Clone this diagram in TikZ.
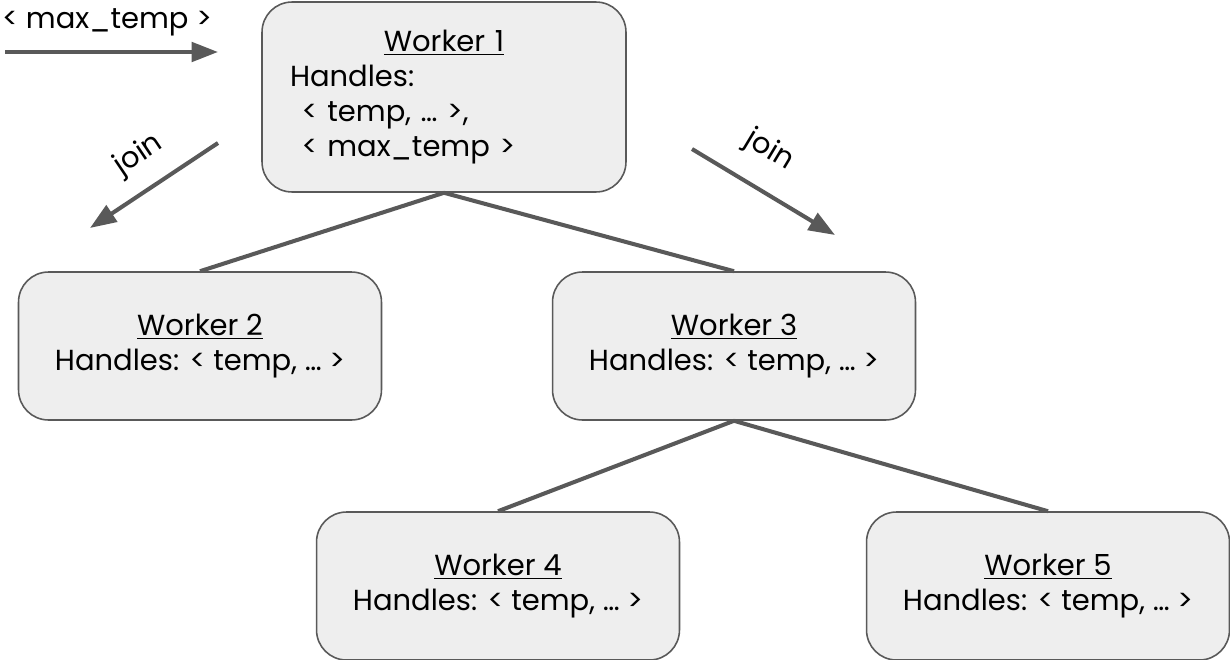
\documentclass[tikz,border=0pt]{standalone}
\usepackage{fontspec}
\setmainfont{Poppins}
\usetikzlibrary{arrows.meta}
\definecolor{boxfill}{HTML}{EEEEEE}
\definecolor{edgegray}{HTML}{595959}

\begin{document}
\begin{tikzpicture}[x=0.02cm,y=-0.02cm,>={Triangle[length=15pt,width=11pt]},
  worker/.style={draw=edgegray,line width=0.9pt,fill=boxfill,rounded corners=0.6cm,
    minimum width=7.26cm,minimum height=2.96cm,align=center},
  edge/.style={draw=edgegray,line width=2.3pt},
  every node/.style={font=\fontsize{16.5}{20}\selectfont}]
  \useasboundingbox (0,0) rectangle (1230,659);
  \node[worker,text width=6.16cm,inner xsep=0.56cm,minimum height=3.8cm,align=left] (W1) at (444,97)
    {\makebox[\hsize]{\underline{Worker 1}}\\Handles:\\\hspace*{0.4em}< temp, … >,\\\hspace*{0.4em}< max\_temp >};
  \node[worker] (W2) at (200,346) {\underline{Worker 2}\\Handles: < temp, … >};
  \node[worker] (W3) at (734,346) {\underline{Worker 3}\\Handles: < temp, … >};
  \node[worker] (W4) at (498,586) {\underline{Worker 4}\\Handles: < temp, … >};
  \node[worker] (W5) at (1048,586) {\underline{Worker 5}\\Handles: < temp, … >};
  \draw[edge] (W1.south) -- (W2.north);
  \draw[edge] (W1.south) -- (W3.north);
  \draw[edge] (W3.south) -- (W4.north);
  \draw[edge] (W3.south) -- (W5.north);
  % incoming tuple stream
  \coordinate (in0) at (5,52);
  \coordinate (in1) at (218,52);
  \node (mt) at (107,22) {< max\_temp >};
  \draw[edge,->] (in0) -- (in1);
  % join outputs
  \coordinate (jl0) at (218,143);
  \coordinate (jl1) at (90,228);
  \coordinate (jr0) at (692,149);
  \coordinate (jr1) at (835,235);
  \draw[edge,->] (jl0) -- (jl1);
  \draw[edge,->] (jr0) -- (jr1);
  \node[rotate=34] (jl) at (139,155) {join};
  \node[rotate=-31] (jr) at (769,151) {join};
\end{tikzpicture}
\end{document}
